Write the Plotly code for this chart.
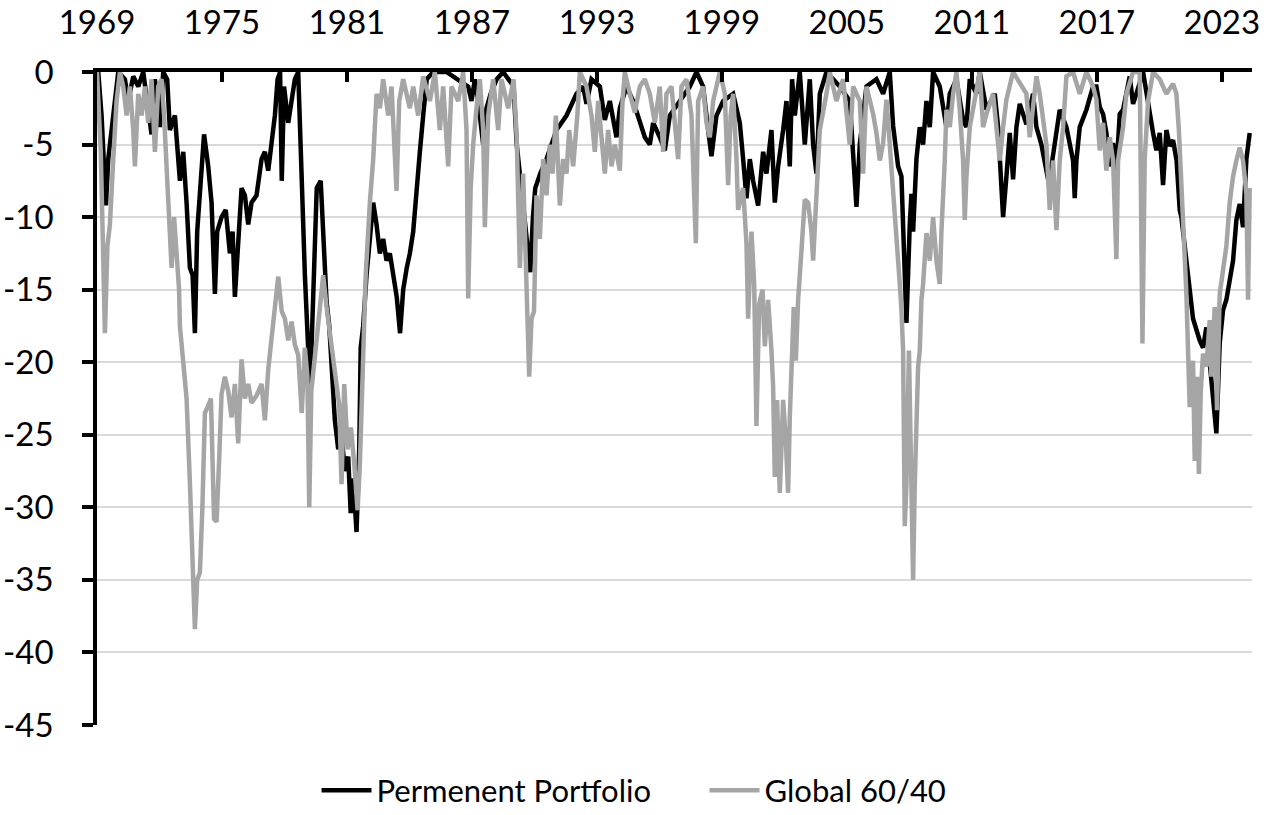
import plotly.graph_objects as go

# Permanent Portfolio drawdown (%), decimal years
pp_years = [1969.0, 1969.06, 1969.22, 1969.43, 1969.54, 1969.7, 1969.86, 1970.02, 1970.34, 1970.5,
            1970.74, 1970.98, 1971.22, 1971.62, 1971.78, 1972.02, 1972.18, 1972.37, 1972.5, 1972.74,
            1972.98, 1973.14, 1973.3, 1973.46, 1973.59, 1973.7, 1973.81, 1973.94, 1974.14, 1974.34,
            1974.5, 1974.66, 1974.77, 1974.98, 1975.18, 1975.38, 1975.51, 1975.62, 1975.78, 1975.94,
            1976.1, 1976.26, 1976.42, 1976.66, 1976.9, 1977.06, 1977.22, 1977.38, 1977.54, 1977.67,
            1977.79, 1977.87, 1977.98, 1978.18, 1978.35, 1978.5, 1978.66, 1978.83, 1978.98, 1979.23,
            1979.39, 1979.55, 1979.74, 1979.86, 1980.02, 1980.15, 1980.26, 1980.42, 1980.58, 1980.74,
            1980.9, 1981.06, 1981.18, 1981.3, 1981.46, 1981.59, 1981.66, 1981.78, 1981.94, 1982.1,
            1982.26, 1982.42, 1982.58, 1982.74, 1982.9, 1983.06, 1983.22, 1983.39, 1983.55, 1983.7,
            1983.87, 1984.02, 1984.18, 1984.35, 1984.5, 1984.66, 1984.83, 1985.14, 1985.78, 1986.82,
            1986.98, 1987.14, 1987.3, 1987.54, 1987.7, 1987.9, 1988.19, 1988.5, 1989.0, 1989.15,
            1989.39, 1989.63, 1989.8, 1989.93, 1990.04, 1990.28, 1990.58, 1991.06, 1991.54, 1992.02,
            1992.34, 1992.5, 1992.74, 1993.14, 1993.38, 1993.62, 1993.94, 1994.1, 1994.42, 1994.74,
            1995.06, 1995.3, 1995.54, 1995.7, 1996.02, 1996.26, 1996.5, 1996.98, 1997.46, 1997.78,
            1998.1, 1998.34, 1998.5, 1998.74, 1999.06, 1999.54, 1999.7, 1999.86, 2000.02, 2000.18,
            2000.34, 2000.5, 2000.74, 2000.98, 2001.14, 2001.38, 2001.54, 2001.7, 2001.94, 2002.1,
            2002.26, 2002.37, 2002.5, 2002.74, 2002.98, 2003.22, 2003.38, 2003.54, 2003.7, 2004.02,
            2004.66, 2005.14, 2005.46, 2005.62, 2005.94, 2006.42, 2006.74, 2007.06, 2007.22, 2007.46,
            2007.62, 2007.74, 2007.86, 2008.02, 2008.1, 2008.18, 2008.34, 2008.5, 2008.66, 2008.82,
            2008.98, 2009.14, 2009.46, 2009.78, 2009.94, 2010.26, 2010.58, 2010.74, 2010.9, 2011.22,
            2011.38, 2011.7, 2012.1, 2012.26, 2012.42, 2012.5, 2012.66, 2012.82, 2012.98, 2013.14,
            2013.3, 2013.46, 2013.62, 2013.94, 2014.1, 2014.34, 2014.5, 2014.66, 2014.82, 2015.06,
            2015.22, 2015.54, 2015.86, 2015.94, 2016.02, 2016.18, 2016.5, 2016.82, 2016.98, 2017.14,
            2017.3, 2017.46, 2017.62, 2017.78, 2017.94, 2018.1, 2018.26, 2018.58, 2018.74, 2018.9,
            2019.22, 2019.7, 2019.86, 2020.02, 2020.18, 2020.34, 2020.5, 2020.66, 2020.83, 2020.98,
            2021.06, 2021.3, 2021.62, 2021.94, 2022.1, 2022.26, 2022.42, 2022.58, 2022.74, 2022.9,
            2023.06, 2023.22, 2023.38, 2023.54, 2023.7, 2023.86, 2024.02, 2024.18, 2024.34]
pp_values = [0, 0, -3, -9.2, -6, -4, -1.5, 0, -0.5, -2,
             -0.3, -1, 0, -4.3, -0.5, -3.8, 0, -0.5, -4, -3,
             -7.5, -5.5, -9, -13.5, -14, -18, -11, -8, -4.3, -6.5,
             -9, -15.3, -11, -10, -9.5, -12.5, -11, -15.5, -12, -8,
             -8.5, -10.5, -9, -8.5, -6, -5.5, -6.8, -5, -3, -0.5,
             0, -7.5, -1, -3.5, -2, -0.5, 0, -8, -14, -22,
             -14, -8, -7.5, -11.5, -15.8, -17.5, -20.5, -24, -26, -25,
             -27.5, -26.5, -30.4, -28, -31.7, -26, -19, -17.5, -14, -11,
             -9, -10.5, -12.5, -11.5, -13, -12.5, -14, -15.5, -18, -15,
             -13.5, -12.5, -11, -8.5, -5.5, -3, -0.5, 0, 0, -1,
             -2, -0.5, -2, -5, -2.5, -1.5, -0.5, 0, -1, -5,
             -8, -11, -13.8, -10, -8, -7, -6, -4, -3, -1.5,
             -1, -2.2, -0.5, -1, -3.3, -2, -4.5, -2.5, -1, -2,
             -3.5, -4.5, -5, -3.5, -4.5, -5.4, -3, -2, -1, 0,
             -1, -4, -5.8, -3, -2, -1.5, -2.5, -3.5, -6, -8.7,
             -6, -7.5, -9.2, -5.5, -7, -4, -9, -6.5, -4, -2,
             -6.5, -0.5, -3, 0, -5, -0.5, -5, -7, -1.5, 0,
             -1, -2, -9.3, -5, -1, -0.5, -1.5, 0, -3.7, -6.5,
             -7.2, -13, -17.3, -10.5, -8.4, -11, -6, -3.8, -5, -2,
             -3.8, 0, -1, -3.8, -1.5, -0.5, -3.3, -3.8, -0.5, -1.5,
             0, -2.6, -1.5, -3.8, -7.2, -10, -7.2, -4.2, -7.4, -3.8,
             -2.2, -2.9, -3.6, -1.5, -3.8, -5, -6.1, -7.4, -6.5, -3.8,
             -2.6, -3.8, -6.1, -8.7, -6.1, -3.8, -2.6, -1, -1, -2.4,
             -2.9, -4.2, -6.5, -4.9, -6.8, -2.9, -2.6, -0.3, -2.2, -1.5,
             0, -4.2, -5.4, -4.2, -7.8, -4, -5.1, -4.7, -6.1, -9.5,
             -10, -13, -17, -18.5, -19, -17.6, -19.9, -22.2, -24.9, -18.7,
             -16.4, -15.7, -14.1, -13, -10.2, -9.1, -10.7, -6, -4.2]

# Global 60/40 drawdown (%), decimal years
g_years = [1969.0, 1969.06, 1969.18, 1969.27, 1969.38, 1969.5, 1969.62, 1969.78, 1969.94, 1970.1,
           1970.26, 1970.42, 1970.58, 1970.74, 1970.82, 1970.98, 1971.14, 1971.3, 1971.46, 1971.62,
           1971.78, 1971.94, 1972.1, 1972.22, 1972.37, 1972.5, 1972.58, 1972.7, 1972.83, 1972.94,
           1972.98, 1973.14, 1973.3, 1973.46, 1973.59, 1973.7, 1973.81, 1973.94, 1974.06, 1974.18,
           1974.34, 1974.47, 1974.62, 1974.74, 1974.87, 1974.98, 1975.14, 1975.3, 1975.46, 1975.62,
           1975.78, 1975.94, 1976.1, 1976.26, 1976.42, 1976.66, 1976.9, 1977.06, 1977.22, 1977.38,
           1977.54, 1977.7, 1977.87, 1978.02, 1978.18, 1978.34, 1978.5, 1978.66, 1978.83, 1978.98,
           1979.1, 1979.19, 1979.29, 1979.42, 1979.58, 1979.74, 1979.86, 1980.02, 1980.18, 1980.34,
           1980.5, 1980.63, 1980.74, 1980.87, 1981.03, 1981.19, 1981.35, 1981.51, 1981.62, 1981.71,
           1981.78, 1981.9, 1982.1, 1982.26, 1982.42, 1982.58, 1982.74, 1982.98, 1983.14, 1983.38,
           1983.51, 1983.7, 1984.02, 1984.18, 1984.42, 1984.66, 1984.98, 1985.22, 1985.46, 1985.62,
           1985.86, 1986.02, 1986.34, 1986.58, 1986.74, 1986.82, 1986.94, 1987.06, 1987.22, 1987.38,
           1987.54, 1987.62, 1987.78, 1988.02, 1988.26, 1988.42, 1988.74, 1989.0, 1989.15, 1989.22,
           1989.3, 1989.46, 1989.62, 1989.75, 1989.86, 1989.98, 1990.1, 1990.26, 1990.42, 1990.58,
           1990.74, 1990.87, 1991.03, 1991.22, 1991.38, 1991.54, 1991.67, 1991.86, 1992.06, 1992.18,
           1992.5, 1992.74, 1992.9, 1993.06, 1993.22, 1993.38, 1993.54, 1993.7, 1993.86, 1994.1,
           1994.23, 1994.34, 1994.58, 1994.82, 1995.06, 1995.3, 1995.54, 1995.78, 1996.02, 1996.18,
           1996.34, 1996.58, 1996.74, 1996.9, 1997.06, 1997.3, 1997.54, 1997.62, 1997.75, 1997.86,
           1998.1, 1998.26, 1998.42, 1998.58, 1998.9, 1999.14, 1999.3, 1999.42, 1999.54, 1999.7,
           1999.78, 2000.02, 2000.18, 2000.26, 2000.42, 2000.55, 2000.66, 2000.79, 2000.95, 2001.06,
           2001.22, 2001.38, 2001.46, 2001.54, 2001.65, 2001.78, 2001.94, 2002.07, 2002.18, 2002.26,
           2002.34, 2002.45, 2002.55, 2002.66, 2002.82, 2002.98, 2003.14, 2003.3, 2003.38, 2003.54,
           2003.7, 2004.02, 2004.18, 2004.5, 2004.82, 2005.14, 2005.3, 2005.62, 2005.78, 2005.94,
           2006.26, 2006.42, 2006.58, 2006.74, 2006.9, 2007.06, 2007.22, 2007.38, 2007.54, 2007.62,
           2007.7, 2007.78, 2007.86, 2007.98, 2008.1, 2008.18, 2008.26, 2008.34, 2008.42, 2008.5,
           2008.58, 2008.66, 2008.82, 2008.98, 2009.14, 2009.3, 2009.46, 2009.54, 2009.62, 2009.7,
           2009.78, 2009.94, 2010.1, 2010.26, 2010.42, 2010.58, 2010.66, 2010.74, 2010.9, 2011.22,
           2011.38, 2011.54, 2011.7, 2012.02, 2012.18, 2012.34, 2012.5, 2012.66, 2012.98, 2013.3,
           2013.62, 2013.78, 2014.1, 2014.26, 2014.58, 2014.74, 2014.9, 2015.06, 2015.22, 2015.38,
           2015.54, 2015.86, 2016.18, 2016.5, 2016.82, 2016.98, 2017.14, 2017.3, 2017.46, 2017.62,
           2017.78, 2017.94, 2018.02, 2018.26, 2018.42, 2018.74, 2019.06, 2019.19, 2019.3, 2019.46,
           2019.7, 2020.02, 2020.34, 2020.66, 2020.82, 2020.94, 2021.14, 2021.3, 2021.46, 2021.62,
           2021.7, 2021.81, 2021.9, 2021.99, 2022.1, 2022.26, 2022.42, 2022.5, 2022.66, 2022.77,
           2022.9, 2023.06, 2023.22, 2023.38, 2023.54, 2023.7, 2023.86, 2024.02, 2024.18, 2024.26,
           2024.34]
g_values = [0, -2, -5.5, -11, -18, -12, -10.5, -6, -2, 0,
            -1, -3, -1, -4, -6.5, -1.5, -3, -1, -3.5, -0.5,
            -5.5, -1, -0.5, -3, -7.5, -10, -13.5, -10, -12.5, -15,
            -17.5, -20, -22.5, -28.3, -33.5, -38.4, -35, -34.5, -30, -23.5,
            -23, -22.5, -30.8, -31, -26.5, -22.2, -21, -22, -23.8, -21.5,
            -25.6, -19.8, -22.5, -21.5, -22.8, -22.3, -21.5, -24, -20.5, -18.5,
            -16, -14.1, -16.5, -17, -18.5, -17.2, -18.8, -19.5, -23.5, -19,
            -21, -30, -22, -20, -17.5, -15.5, -14, -16.2, -18, -19.8,
            -21, -23, -28.4, -21.5, -26, -24.5, -27, -30.2, -27, -23.5,
            -19, -14, -9, -6, -1.5, -2.5, -0.5, -3, -1, -8.2,
            -2, -0.5, -2.5, -1, -3, -0.3, -2, 0, -4, -1,
            -6.5, -1, -2, 0, -4, -15.6, -8, -5, -2.5, -0.5,
            -4, -10.7, -3, -0.5, -4, -0.5, -2.5, -0.5, -4.5, -9,
            -13.5, -7, -16, -21, -17, -16.5, -8.5, -11.5, -6, -8.5,
            -5, -7, -3, -9.2, -6, -7, -4, -6.5, -3, 0,
            -1, -3, -5.5, -2, -4.5, -7, -4, -6.5, -5, -6.8,
            -2, 0, -1.5, -2.8, -1, -0.5, -1.5, -3.5, -1, -5.5,
            -1.5, -1, -3.5, -6, -1, -0.5, -3, -7, -11.8, -2,
            -1, -3.5, -4.5, -2, 0, -1.5, -7.8, -3, -1.5, -6,
            -9.5, -8, -11.8, -17, -11, -14.6, -24.4, -16, -15, -18.9,
            -15.7, -19.2, -21.7, -27.9, -22.6, -29, -22.6, -25.4, -29, -23.8,
            -20.3, -16.2, -19.9, -15.7, -12.3, -8.8, -9, -11, -13, -9,
            -4, -1.5, 0, -2, -0.5, -5, -1, -2, -7, -1,
            -2.9, -4.2, -6.1, -4.9, -1.9, -5, -8, -10.7, -14.6, -16.4,
            -19.2, -31.3, -28.4, -19.2, -31.8, -35, -28.4, -24, -20.3, -19.2,
            -15.7, -14.6, -11.1, -13, -10, -13, -14.6, -11, -8.8, -6.1,
            -2.6, -3.8, -1.5, 0, -2.6, -6.1, -10.2, -7.2, -3.8, -1.5,
            0, -3.8, -2.9, -1.5, -4.2, -6.1, -3.8, -1.9, 0, -0.8,
            -1.5, -4.5, -0.3, -1.5, -5, -9.5, -6.1, -10.9, -6.1, -3.8,
            -0.3, 0, -1.5, 0, -1, -1.9, -5.4, -3.5, -6.8, -4.5,
            -6.1, -12.9, -6.1, -3.8, -1.5, 0, 0, -18.7, -6, -2,
            0, -0.5, -1.5, -0.8, -1.5, -4, -10.7, -15.3, -23.1, -19.9,
            -26.8, -21, -27.7, -22, -19.4, -20.3, -17.1, -21, -16.2, -23.3,
            -15.3, -13.4, -12, -9, -7.2, -6.1, -5.2, -6.1, -8.4, -15.7,
            -8]

x_tick_vals = [1969, 1975, 1981, 1987, 1993, 1999, 2005, 2011, 2017, 2023]
x_tick_text = ["1969", "1975", "1981", "1987", "1993", "1999", "2005", "2011", "2017", "2023"]
y_tick_vals = [0, -5, -10, -15, -20, -25, -30, -35, -40, -45]
y_tick_text = ["0", "-5", "-10", "-15", "-20", "-25", "-30", "-35", "-40", "-45"]

FONT = "Lato"

fig = go.Figure()
fig.add_trace(go.Scatter(x=pp_years, y=pp_values, mode="lines", name="Permenent Portfolio",
                         line=dict(color="#000000", width=4.5)))
fig.add_trace(go.Scatter(x=g_years, y=g_values, mode="lines", name="Global 60/40",
                         line=dict(color="#a5a5a5", width=4.5)))

fig.update_layout(
    width=1266, height=815,
    margin=dict(l=97, r=14, t=72, b=90, autoexpand=False),
    paper_bgcolor="white", plot_bgcolor="white",
    font=dict(family=FONT, size=32, color="#000000"),
    showlegend=True,
    legend=dict(orientation="h", xref="container", yref="container",
                x=0.25, xanchor="left", y=0.03, yanchor="middle",
                font=dict(size=31), itemwidth=50, entrywidth=323,
                bgcolor="rgba(0,0,0,0)"),
    xaxis=dict(side="top", range=[1969, 2024.45], tickmode="array",
               tickvals=x_tick_vals, ticktext=x_tick_text, automargin=False,
               showline=True, linecolor="#000000", linewidth=3.5,
               ticks="inside", ticklen=10, tickwidth=4, tickcolor="#000000",
               showgrid=False, zeroline=False, ticklabelstandoff=21,
               tickfont=dict(size=33)),
    yaxis=dict(range=[-45, 0], tickmode="array", tickvals=y_tick_vals, ticktext=y_tick_text,
               automargin=False,
               showline=True, linecolor="#000000", linewidth=3.5,
               ticks="outside", ticklen=11, tickwidth=3.5, tickcolor="#000000",
               showgrid=True, gridcolor="#d9d9d9", gridwidth=1.5, zeroline=False,
               ticklabelstandoff=22, tickfont=dict(size=33)),
)

fig.write_html("out.html", config={"displayModeBar": False},
               post_script="document.body.style.margin='0';")
